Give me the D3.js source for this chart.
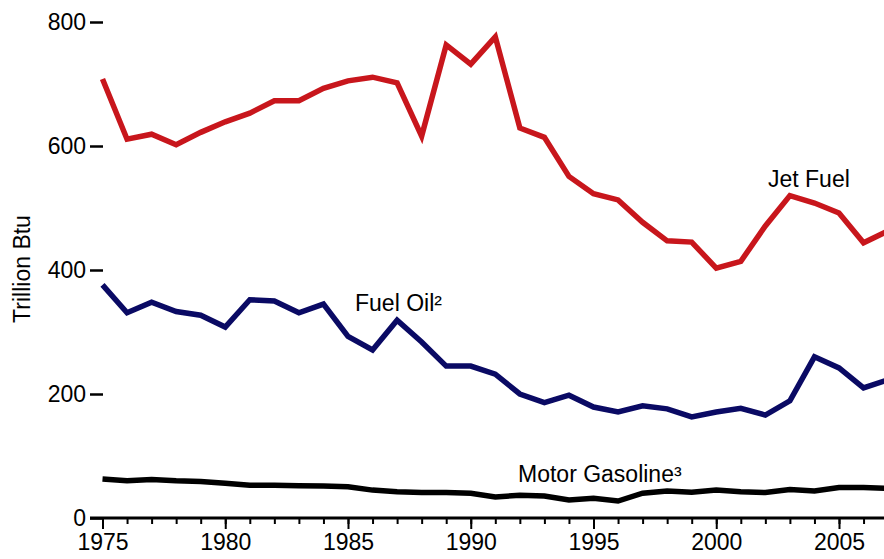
<!DOCTYPE html>
<html><head><meta charset="utf-8">
<script src="https://cdn.jsdelivr.net/npm/d3@7"></script>
<style>body{margin:0;background:#fff}svg{display:block}text{font-family:"Liberation Sans",Arial,sans-serif}</style>
</head><body>
<svg id="c" width="884" height="559"></svg>
<script>
const years = d3.range(1975, 2008);
const jetFuel = [708,611,619,602,622,639,653,673,673,693,705,711,702,616,763,732,776,629,614,551,523,513,477,447,445,403,414,471,520,508,492,444,463];
const fuelOil = [376,331,348,333,327,308,352,350,331,345,293,271,319,284,245,245,232,200,186,198,179,171,181,176,163,171,177,166,189,260,242,210,223];
const motorGasoline = [63,60,62,60,59,56,53,53,52,51.5,50.5,45,42.5,41,41,40,34,36.6,35.5,29,31.7,27.4,40,43.5,41.4,45,42.5,41,46,43.5,49,49,48];
const yTicks = [0,200,400,600,800];
const xMajor = [1975,1980,1985,1990,1995,2000,2005];

const FS = 23;
const svg = d3.select("#c");
const x = d3.scaleLinear().domain([1975, 2007]).range([102.5, 888.1]);
const y = d3.scaleLinear().domain([0, 800]).range([518, 22]);

// x axis line
svg.append("line").attr("x1", 90).attr("x2", 884).attr("y1", y(0)).attr("y2", y(0))
  .attr("stroke", "#000").attr("stroke-width", 3);

// minor ticks
const gMinor = svg.append("g").attr("transform", `translate(0,${y(0)})`)
  .call(d3.axisBottom(x).tickValues(years).tickSize(6).tickFormat(""));
gMinor.select(".domain").remove();
gMinor.selectAll("line").attr("stroke-width", 2);

const gMajor = svg.append("g").attr("transform", `translate(0,${y(0)})`)
  .call(d3.axisBottom(x).tickValues(xMajor).tickSize(11).tickPadding(5).tickFormat(d3.format("d")));
gMajor.select(".domain").remove();
gMajor.selectAll("line").attr("stroke-width", 2);
gMajor.selectAll("text").attr("font-size", FS).attr("fill", "#000").attr("font-family", "Liberation Sans, Arial, sans-serif");

const gY = svg.append("g").attr("transform", `translate(103,0)`)
  .call(d3.axisLeft(y).tickValues(yTicks).tickSize(13).tickPadding(4));
gY.select(".domain").remove();
gY.selectAll("line").attr("stroke-width", 2.5);
gY.selectAll("text").attr("font-size", FS).attr("fill", "#000").attr("font-family", "Liberation Sans, Arial, sans-serif");

svg.append("text").attr("transform", "translate(30,269) rotate(-90)")
  .attr("text-anchor", "middle").attr("font-size", FS).text("Trillion Btu");

const line = d3.line().x((d, i) => x(years[i])).y(d => y(d));
const series = [
  {v: jetFuel, c: "#C8161C"},
  {v: fuelOil, c: "#0A0A64"},
  {v: motorGasoline, c: "#000000"}
];
series.forEach(s => {
  svg.append("path").datum(s.v).attr("d", line).attr("fill", "none")
    .attr("stroke", s.c).attr("stroke-width", 5.5).attr("stroke-linejoin", "miter");
});

svg.append("text").attr("x", 768).attr("y", 187).attr("font-size", FS).text("Jet Fuel");
svg.append("text").attr("x", 355).attr("y", 311).attr("font-size", FS).text("Fuel Oil²");
svg.append("text").attr("x", 518).attr("y", 482).attr("font-size", FS).text("Motor Gasoline³");
</script>
</body></html>
